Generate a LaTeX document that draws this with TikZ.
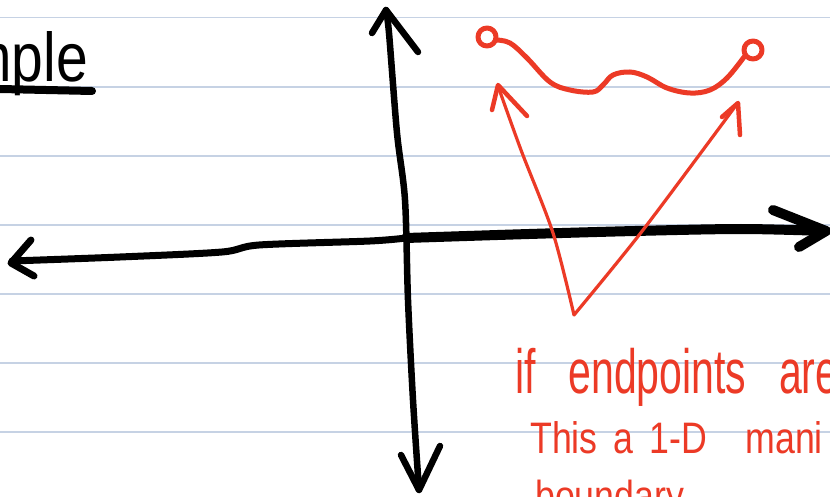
\documentclass[tikz,border=0pt]{standalone}
\usepackage{fontspec}
\setmainfont{Liberation Sans}
\usepackage{graphicx}
\definecolor{rulecol}{RGB}{198,210,228}
\definecolor{ink}{RGB}{236,58,38}
\tikzset{
  ruled/.style={draw=rulecol, line width=1.6},
  axis/.style={draw=black, line width=7, line cap=round, line join=round},
  redcurve/.style={draw=ink, line width=5, line cap=round, line join=round},
  redarrow/.style={draw=ink, line width=3.2, line cap=round, line join=round},
  redtext/.style={text=ink, inner sep=0pt, anchor=base west},
}
\begin{document}
\begin{tikzpicture}[x=1pt,y=-1pt]
\useasboundingbox (0,0) rectangle (830,497);
\fill[white] (0,0) rectangle (830,497);
\clip (0,0) rectangle (830,497);
% ruled lines
\foreach \yy in {17.5,87,156,225,294,363,432} \draw[ruled] (0,\yy) -- (830,\yy);
% title fragment
\node[anchor=base east, inner sep=0pt, font=\fontsize{60}{60}\selectfont] (title) at (88,82) {\scalebox{0.95}[1.15]{mple}};
\draw[axis, line width=8] (0,89) -- (92,91);
% horizontal axis
\draw[axis] plot[smooth] coordinates {(12,261) (120,257) (222,252) (259,245) (370,241) (406,238)};
\draw[axis, line width=10] plot[smooth] coordinates {(406,238) (529,234) (635,231) (741,229) (826,231)};
\draw[axis] (31,240) -- (11,263) -- (34,276);
\draw[axis, line width=10] (773,210) -- (826,231) -- (799,247);
% vertical axis
\draw[axis, line width=6.5] plot[smooth] coordinates {(386,10) (389,33) (397,133) (405,200) (408,300) (413,400) (419,490)};
\draw[axis, line width=6.5] (372,33) -- (386,10) -- (418,52);
\draw[axis, line width=6.5] (401,455) -- (419,490) -- (440,446);
% red curve with open endpoints
\draw[redcurve] (487,37) circle[radius=9];
\draw[redcurve] (753,50) circle[radius=9];
\draw[redcurve] plot[smooth, tension=0.6] coordinates {(496,40) (510,43) (527,58) (550,82) (570,90) (593,92) (603,85) (613,75) (630,72) (647,77) (667,88) (690,93) (710,90) (727,78) (744,57)};
% red arrows
\draw[redarrow] plot[smooth] coordinates {(498,86) (521,150) (553,233) (574,315)};
\draw[redarrow] plot[smooth] coordinates {(574,315) (643,230) (737,104)};
\draw[redarrow, line width=4.5] (492,110) -- (498,85) -- (527,116);
\draw[redarrow, line width=4.5] (722,117) -- (738,103) -- (740,135);
% red text
\node[redtext, font=\fontsize{50}{50}\selectfont] (t1) at (515,393) {\scalebox{0.82}[1.25]{\spaceskip=40pt\relax if endpoints are}};
\node[redtext, font=\fontsize{42}{42}\selectfont] (t2) at (530,453) {\scalebox{0.85}[1.05]{\spaceskip=19pt\relax This a 1-D\hspace{26pt} mani}};
\node[redtext, font=\fontsize{42}{42}\selectfont] (t3) at (535,510) {\scalebox{0.85}[1.0]{boundary}};
\end{tikzpicture}
\end{document}
